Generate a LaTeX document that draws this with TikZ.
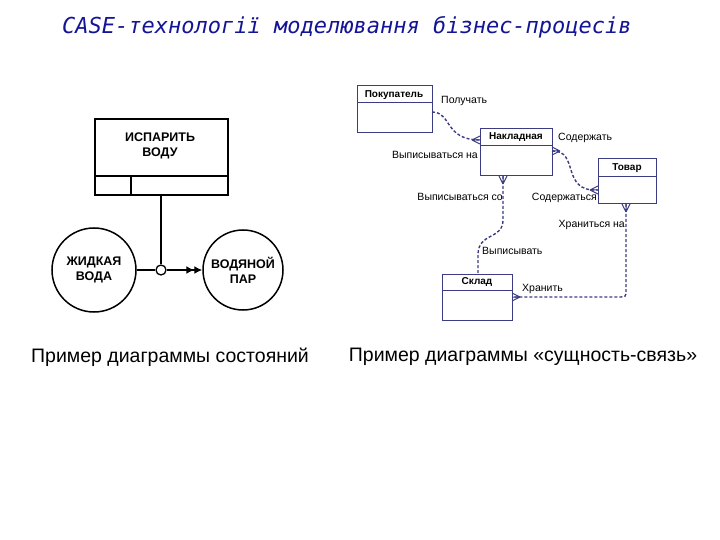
\documentclass[tikz,border=0pt]{standalone}
\usepackage{fontspec}
\setmainfont{Liberation Sans}
\newfontfamily\titlefont{DejaVu Sans Mono}
\usetikzlibrary{arrows.meta}
\definecolor{erblue}{RGB}{60,60,130}
\definecolor{ttl}{RGB}{20,20,150}
\tikzset{
 ent/.style={draw=erblue,line width=1pt},
 rel/.style={draw=erblue,line width=1.4pt,dash pattern=on 3pt off 2pt},
 lbl/.style={font=\fontsize{10.5}{11}\selectfont,inner sep=0pt},
 hdr/.style={font=\fontsize{10}{11}\selectfont\bfseries,inner sep=0pt},
 big/.style={font=\fontsize{12.5}{15}\selectfont\bfseries,align=center,inner sep=0pt},
 captxt/.style={font=\fontsize{19.5}{21}\selectfont,inner sep=0pt}
}
\begin{document}
\begin{tikzpicture}[x=1pt,y=-1pt]
\useasboundingbox (0,0) rectangle (720,540);
\node[font=\titlefont\itshape\fontsize{22}{24}\selectfont,text=ttl,anchor=west,inner sep=0pt] (title) at (62,27) {CASE-технології моделювання бізнес-процесів};
% left diagram
\draw[line width=1.5pt] (95,119) rectangle (228,195);
\draw[line width=1.5pt] (95,176) -- (228,176) (131,176) -- (131,195);
\node[big] (act) at (160,146) {ИСПАРИТЬ\\ВОДУ};
\coordinate (actb) at (161,195);
\node[draw,circle,line width=1.5pt,minimum size=84pt,big] (liq) at (94,270) {ЖИДКАЯ\\ВОДА};
\node[draw,circle,line width=1.5pt,minimum size=80pt,big] (vap) at (243,270) {ВОДЯНОЙ\\ПАР};
\node[draw,circle,line width=1.3pt,minimum size=10pt,inner sep=0pt,fill=white] (j) at (161,270) {};
\draw[line width=1.5pt] (actb) -- (j);
\draw[line width=1.5pt] (liq) -- (j);
\draw[line width=1.5pt,-{Latex[length=8pt,width=8pt]Latex[length=8pt,width=8pt]}] (j) -- (vap);
\node[captxt] (c1) at (170,357) {Пример диаграммы состояний};
% ER
\draw[ent] (357,86) rectangle (432,133); \draw[ent] (357,103)--(432,103);
\node[hdr] (pok) at (394,95) {Покупатель};
\draw[ent] (480,129) rectangle (552,176); \draw[ent] (480,146)--(552,146);
\node[hdr] (nak) at (516,137) {Накладная};
\draw[ent] (598,159) rectangle (656,204); \draw[ent] (598,177)--(656,177);
\node[hdr] (tov) at (627,168) {Товар};
\draw[ent] (442,274) rectangle (512,320); \draw[ent] (442,290)--(512,290);
\node[hdr] (skl) at (477,282) {Склад};
\coordinate (a1) at (432,112); \coordinate (a2) at (480,140);
\draw[rel] (a1) .. controls (452,112) and (444,140) .. (a2);
\coordinate (b1) at (552,151); \coordinate (b2) at (598,190);
\draw[rel] (b1) .. controls (580,150) and (560,192) .. (b2);
\coordinate (c1a) at (503,176); \coordinate (c2) at (478,274);
\draw[rel] (c1a) -- (503,220) .. controls (503,240) and (478,232) .. (478,255) -- (c2);
\coordinate (d1) at (626,204); \coordinate (d2) at (512,297);
\draw[rel] (d1) -- (626,290) .. controls (626,297) .. (618,297) -- (d2);
\foreach \p/\a in {(480,140)/0,(552,151)/180,(598,190)/0,(503,176)/90,(626,204)/90,(512,297)/180}
 \draw[erblue,line width=1pt,shift={\p},rotate=\a] (-8,0)--(0,-4) (-8,0)--(0,4) (-8,0)--(0,0);
\node[lbl,anchor=west] (l1) at (441,101) {Получать};
\node[lbl,anchor=east] (l2) at (478,155) {Выписываться на};
\node[lbl,anchor=west] (l3) at (558,138) {Содержать};
\node[lbl,anchor=east] (l4) at (597,198) {Содержаться};
\node[lbl,anchor=east] (l5) at (503,197) {Выписываться со};
\node[lbl,anchor=west] (l6) at (482,251) {Выписывать};
\node[lbl,anchor=east] (l7) at (625,225) {Храниться на};
\node[lbl,anchor=west] (l8) at (522,289) {Хранить};
\node[captxt] (c2cap) at (523,357) {Пример диаграммы «сущность-связь»};
\end{tikzpicture}
\end{document}
